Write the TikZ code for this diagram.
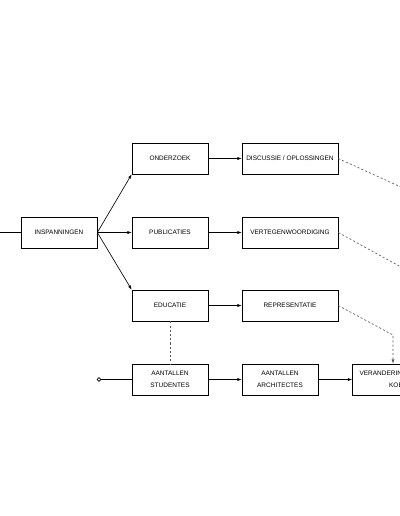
\documentclass[tikz,border=0pt]{standalone}
\usepackage{fontspec}
\setmainfont{Liberation Sans}
\usetikzlibrary{arrows.meta}
\begin{document}
\begin{tikzpicture}[x=0.025cm,y=-0.025cm,font=\fontsize{4.6}{8.5}\selectfont,line width=.45pt,
box/.style={draw,minimum width=1.9cm,minimum height=.775cm,align=center,inner sep=0pt},
wbox/.style={box,minimum width=2.4cm},
tip/.style={-{Latex[length=3pt,width=2.2pt]}},
dsh/.style={black!65,dash pattern=on 1.5pt off 1.5pt}]
\useasboundingbox(0,0)rectangle(400,516);\clip(0,0)rectangle(400,516);
\node[box](in)at(59,232.5){INSPANNINGEN};
\node[box](on)at(170,158.5){ONDERZOEK};\node[box](pu)at(170,232.5){PUBLICATIES};\node[box](ed)at(170,305.5){EDUCATIE};
\node[wbox](di)at(290,158.5){DISCUSSIE / OPLOSSINGEN};\node[wbox](ve)at(290,232.5){VERTEGENWOORDIGING};\node[wbox](re)at(290,305.5){REPRESENTATIE};
\node[box](st)at(170,379.5){AANTALLEN\\STUDENTES};\node[box](ar)at(280,379.5){AANTALLEN\\ARCHITECTES};\node[wbox](ko)at(400.5,379.5){VERANDERINGEN VAN DE\\KOERS};
\node[circle,draw,inner sep=0pt,minimum size=2.6pt](s0)at(99,379.5){};
\coordinate(l0)at(0,232.5);\coordinate(t1)at(460,214);\coordinate(t2)at(460,299.5);\coordinate(k1)at(393,335);
\draw(l0)--(in);\draw(s0)--(st);
\draw[tip](in.east)--(on.south west);\draw[tip](in)--(pu);\draw[tip](in.east)--(ed.north west);
\draw[tip](on)--(di);\draw[tip](pu)--(ve);\draw[tip](ed)--(re);\draw[tip](st)--(ar);\draw[tip](ar)--(ko);
\draw[dsh](ed)--(st);\draw[dsh](di.east)--(t1);\draw[dsh](ve.east)--(t2);
\draw[dsh,tip](re.east)--(k1)--(k1|-ko.north);
\end{tikzpicture}
\end{document}
